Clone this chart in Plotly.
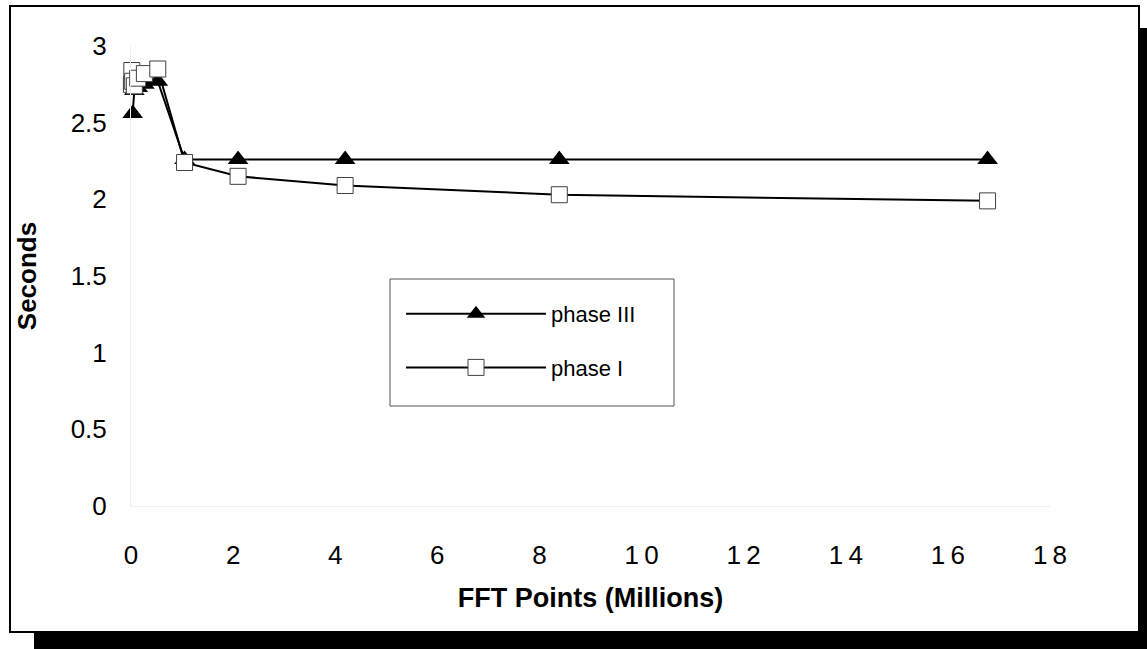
import plotly.graph_objects as go

# ---- data (millions of FFT points, seconds) ----
phase3_x = [0.033, 0.065, 0.131, 0.262, 0.524, 1.049, 2.097, 4.194, 8.389, 16.777]
phase3_y = [2.56, 2.71, 2.73, 2.75, 2.77, 2.26, 2.26, 2.26, 2.26, 2.26]

phase1_x = [0.008, 0.016, 0.033, 0.065, 0.131, 0.262, 0.524, 1.049, 2.097, 4.194, 8.389, 16.777]
phase1_y = [2.75, 2.84, 2.77, 2.74, 2.79, 2.82, 2.85, 2.24, 2.15, 2.09, 2.03, 1.99]

x_ticks = [0, 2, 4, 6, 8, 10, 12, 14, 16, 18]
x_tick_labels = ["0", "2", "4", "6", "8", "1\u20090", "1\u20092", "1\u20094", "1\u20096", "1\u20098"]
y_ticks = [0, 0.5, 1, 1.5, 2, 2.5, 3]
y_tick_labels = ["0", "0.5", "1", "1.5", "2", "2.5", "3"]

W, H = 1147, 649
ML, MR, MT, MB = 131, 97, 46, 143
PW, PH = W - ML - MR, H - MT - MB


def px(xp):
    return (xp - ML) / PW


def py(yp):
    return (H - MB - yp) / PH


fig = go.Figure()
fig.add_trace(go.Scatter(
    x=phase3_x, y=phase3_y, name="phase III", mode="lines+markers",
    line=dict(color="black", width=2),
    marker=dict(symbol="triangle-up", size=18, color="black"),
    cliponaxis=False, legendgroup="g3",
))
fig.add_trace(go.Scatter(
    x=phase1_x, y=phase1_y, name="phase I", mode="lines+markers",
    line=dict(color="black", width=2),
    marker=dict(symbol="square", size=16, color="white",
                line=dict(color="#404040", width=1)),
    cliponaxis=False, legendgroup="g1",
))

fig.update_layout(
    width=W, height=H,
    margin=dict(l=ML, r=MR, t=MT, b=MB, autoexpand=False),
    paper_bgcolor="white",
    plot_bgcolor="rgba(0,0,0,0)",
    font=dict(family="Liberation Sans, Arial, sans-serif", color="black"),
    showlegend=True,
    legend=dict(
        x=px(401), y=py(293), xanchor="left", yanchor="top",
        bgcolor="rgba(0,0,0,0)", borderwidth=0,
        font=dict(size=22), itemwidth=140,
        traceorder="grouped", tracegroupgap=22,
    ),
    xaxis=dict(
        range=[0, 18], tickmode="array", tickvals=x_ticks, ticktext=x_tick_labels,
        showgrid=False, zeroline=False, showline=True, linecolor="#eeeeee",
        tickfont=dict(size=26), ticklabelstandoff=26,
        title=dict(text="<b>FFT Points (Millions)</b>", font=dict(size=27), standoff=18),
    ),
    yaxis=dict(
        range=[0, 3], tickmode="array", tickvals=y_ticks, ticktext=y_tick_labels,
        showgrid=False, zeroline=False, showline=True, linecolor="#eeeeee",
        tickfont=dict(size=26), ticklabelstandoff=18,
        title=dict(text="<b>Seconds</b>", font=dict(size=26), standoff=26),
    ),
    shapes=[
        dict(type="rect", xref="paper", yref="paper", layer="below",
             x0=px(34), x1=px(1147), y0=py(649), y1=py(28),
             fillcolor="black", line=dict(width=0)),
        dict(type="rect", xref="paper", yref="paper", layer="below",
             x0=px(10), x1=px(1139), y0=py(632), y1=py(6),
             fillcolor="white", line=dict(color="black", width=2)),
        # legend frame
        dict(type="rect", xref="paper", yref="paper", layer="above",
             x0=px(390), x1=px(674), y0=py(406), y1=py(279),
             fillcolor="white", line=dict(color="#555555", width=1)),
    ],
)

fig.write_html("out.html")
